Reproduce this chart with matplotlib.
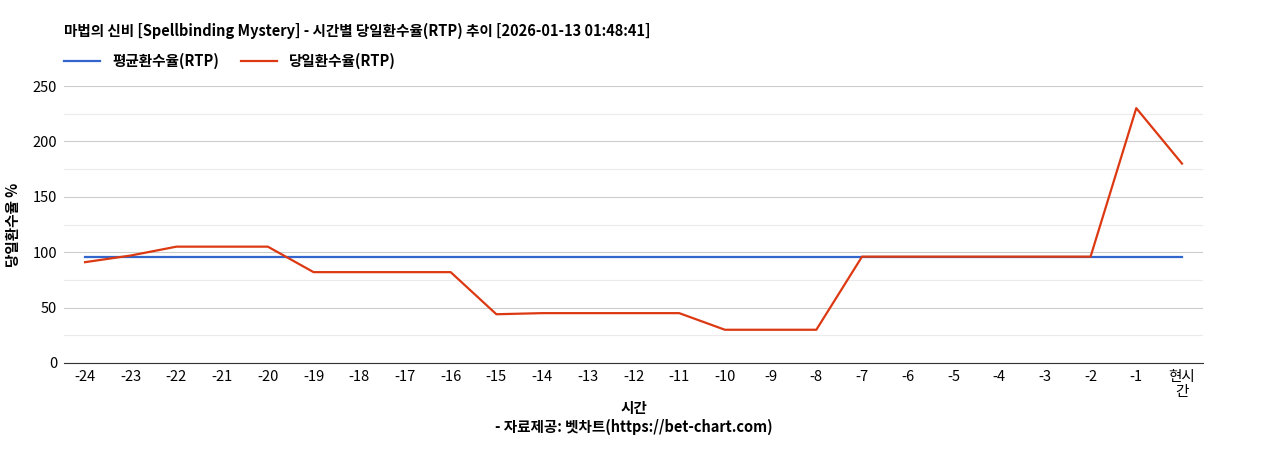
import matplotlib
matplotlib.use("Agg")
import matplotlib.pyplot as plt
import numpy as np

plt.rcParams['font.family'] = ['Noto Sans CJK KR', 'DejaVu Sans']

hours = [str(h) for h in range(-24, 0)] + ['현시\n간']
avg_rtp = [96] * 25
day_rtp = [91, 97, 105, 105, 105, 82, 82, 82, 82, 44, 45, 45, 45, 45, 30, 30, 30,
           96, 96, 96, 96, 96, 96, 230, 180]

fig = plt.figure(figsize=(12.68, 4.5), dpi=100)
ax = fig.add_axes([64/1268, 1 - 363/450, (1203-64)/1268, (363-86)/450])

x = np.arange(len(hours))
ax.plot(x, avg_rtp, color='#3366cc', lw=1.6, label='평균환수율(RTP)')
ax.plot(x, day_rtp, color='#dc3912', lw=1.6, label='당일환수율(RTP)')

ax.set_xlim(-0.46, len(hours) - 0.54)
ax.set_ylim(0, 250)
ax.set_yticks(range(0, 251, 50))
ax.set_yticks(range(25, 250, 50), minor=True)
ax.grid(axis='y', which='major', color='#cccccc', lw=0.8)
ax.grid(axis='y', which='minor', color='#ebebeb', lw=0.8)
ax.set_axisbelow(True)
ax.set_xticks(x)
ax.set_xticklabels(hours, linespacing=1.1)
ax.tick_params(axis='both', length=0, labelsize=10.5, pad=5)
ax.tick_params(axis='y', which='minor', length=0)
for s in ['top', 'right', 'left']:
    ax.spines[s].set_visible(False)
ax.spines['bottom'].set_color('#333333')

ax.set_ylabel('당일환수율 %', fontsize=10.5, fontweight='bold', labelpad=8)
ax.set_xlabel('시간\n- 자료제공: 벳차트(https://bet-chart.com)', fontsize=10.5,
              fontweight='bold', labelpad=1, linespacing=1.2)

fig.text(64/1268, 1 - 31/450, '마법의 신비 [Spellbinding Mystery] - 시간별 당일환수율(RTP) 추이 [2026-01-13 01:48:41]',
         fontsize=10.5, fontweight='bold', va='center')
ax.legend(loc='lower left', bbox_to_anchor=(0, 1.06), ncol=2, frameon=False,
          prop={'weight': 'bold', 'size': 10.5}, handlelength=2.5, columnspacing=1.5,
          borderaxespad=0, borderpad=0)

fig.savefig('out.png', dpi=100)
